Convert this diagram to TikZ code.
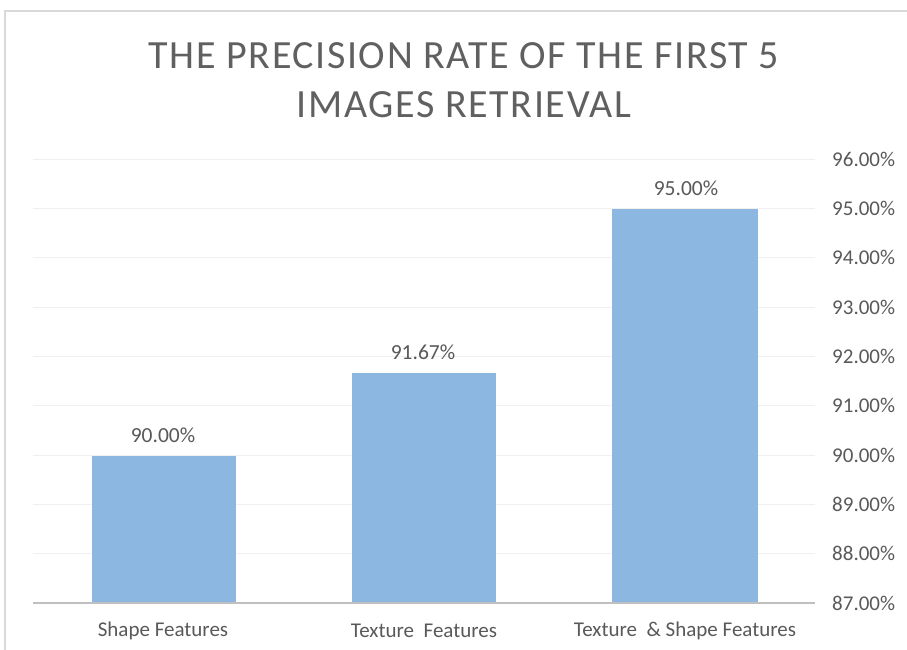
\documentclass[tikz,border=0pt]{standalone}
\usepackage{fontspec}
\setmainfont{Carlito}
\newfontfamily\titlefont[LetterSpace=4]{Carlito}
\definecolor{barblue}{RGB}{139,183,225}
\definecolor{txtgray}{RGB}{89,89,89}
\definecolor{ttlgray}{RGB}{96,96,96}
\definecolor{gridgray}{RGB}{240,240,240}
\definecolor{axisgray}{RGB}{191,191,191}
\definecolor{framegray}{RGB}{217,217,217}
\begin{document}
\begin{tikzpicture}[x=1pt,y=-1pt,
  bar/.style={fill=barblue,draw=none},
  grid/.style={draw=gridgray,line width=1pt},
  tick/.style={anchor=west,text=txtgray,font=\fontsize{21}{24}\selectfont,inner sep=0pt},
  cat/.style={anchor=center,text=txtgray,font=\fontsize{21}{24}\selectfont,inner sep=0pt},
  val/.style={anchor=center,text=txtgray,font=\fontsize{21.5}{24}\selectfont,inner sep=0pt},
  ttl/.style={anchor=center,text=ttlgray,font=\titlefont\fontsize{40}{50}\selectfont,inner sep=0pt}]
\useasboundingbox (0,0) rectangle (907,650);
\fill[white] (0,0) rectangle (907,650);
% frame
\draw[framegray,line width=1.5pt] (5,650) -- (5,11) -- (907,11);
% title
\node[ttl] (t1) at (464,56) {THE PRECISION RATE OF THE FIRST 5};
\node[ttl] (t2) at (464,105) {IMAGES RETRIEVAL};
% gridlines and ticks
\foreach \v/\lab in {96/96.00\%,95/95.00\%,94/94.00\%,93/93.00\%,92/92.00\%,91/91.00\%,90/90.00\%,89/89.00\%,88/88.00\%}{
  \draw[grid] (33,{603-(\v-87)*49.33}) -- (815,{603-(\v-87)*49.33});
  \node[tick] (tk\v) at (832,{603-(\v-87)*49.33}) {\lab};
}
\node[tick] (tk87) at (832,603) {87.00\%};
% bars
\fill[bar] (92,456) rectangle (236,603);
\fill[bar] (352,372.6) rectangle (496,603);
\fill[bar] (612,209) rectangle (758,603);
% axis
\draw[axisgray,line width=1.6pt] (33,603) -- (815,603);
% value labels
\node[val] (v1) at (163,435) {90.00\%};
\node[val] (v2) at (423,352) {91.67\%};
\node[val] (v3) at (686,188) {95.00\%};
% categories
\node[cat] (c1) at (163,631) {Shape Features};
\node[cat] (c2) at (424,631) {Texture\ \ Features};
\node[cat] (c3) at (685,631) {Texture\ \ \& Shape Features};
\end{tikzpicture}
\end{document}
